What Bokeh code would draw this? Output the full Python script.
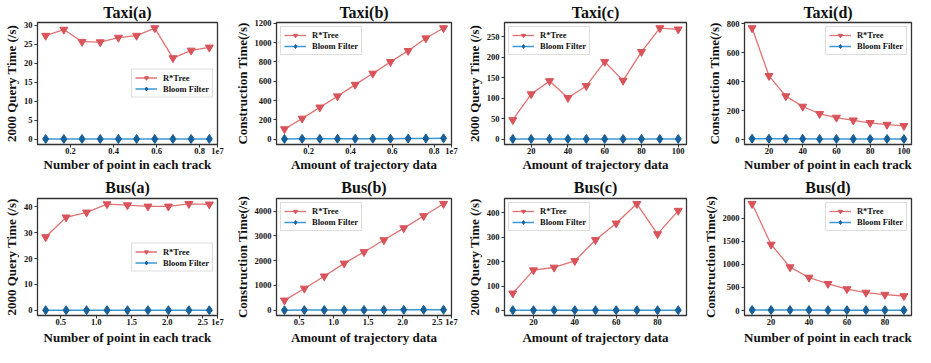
from bokeh.plotting import figure
from bokeh.layouts import gridplot
from bokeh.models import FixedTicker, CustomJSTickFormatter, Range1d
from bokeh.embed import file_html
from bokeh.resources import INLINE

# ---------------- data ----------------
taxi_x_ab = [845000, 1690000, 2535000, 3380000, 4225000, 5070000, 5915000, 6760000, 7605000, 8450000]
taxi_x_cd = [10, 20, 30, 40, 50, 60, 70, 80, 90, 100]
bus_x_ab = [2880000, 5760000, 8640000, 11520000, 14400000, 17280000, 20160000, 23040000, 25920000]
bus_x_cd = [10, 20, 30, 40, 50, 60, 70, 80, 90]

taxi_a_rtree = [27.3, 28.9, 25.7, 25.6, 26.8, 27.3, 29.3, 21.4, 23.4, 24.2]
taxi_a_bloom = [0.1, 0.1, 0.1, 0.1, 0.1, 0.1, 0.1, 0.1, 0.1, 0.1]
taxi_b_rtree = [105, 215, 330, 445, 565, 680, 800, 915, 1045, 1150]
taxi_b_bloom = [3, 4, 4, 5, 5, 6, 6, 7, 8, 9]
taxi_c_rtree = [47, 110, 142, 101, 130, 189, 143, 213, 271, 268]
taxi_c_bloom = [0.8, 0.8, 0.8, 0.8, 0.8, 0.8, 0.8, 0.8, 0.8, 0.8]
taxi_d_rtree = [770, 440, 300, 228, 178, 152, 133, 115, 103, 95]
taxi_d_bloom = [6, 5, 5, 5, 4, 4, 4, 4, 4, 4]

bus_a_rtree = [28.3, 35.9, 37.8, 41.0, 40.6, 40.1, 40.1, 41.1, 40.9]
bus_a_bloom = [0.1, 0.1, 0.1, 0.1, 0.1, 0.1, 0.1, 0.1, 0.1]
bus_b_rtree = [400, 880, 1370, 1890, 2350, 2830, 3310, 3800, 4290]
bus_b_bloom = [5, 8, 10, 12, 14, 16, 18, 20, 22]
bus_c_rtree = [70, 165, 176, 203, 289, 357, 437, 313, 409]
bus_c_bloom = [1, 1, 1, 1, 1, 1, 1, 1, 1]
bus_d_rtree = [2310, 1430, 940, 715, 580, 465, 390, 345, 315]
bus_d_bloom = [12, 11, 10, 10, 9, 9, 9, 8, 8]

series_names = ["R*Tree", "Bloom Filter"]
sci_text = "1e7"

FONT = "Liberation Serif"
RED_LINE = "#e27272"
RED_MARK = "#d9535a"
BLUE_LINE = "#3b98d4"
BLUE_MARK = "#175f98"

COL_W = [231, 232, 236, 216]
COL_BR = [14, 12, 13, 4]
ROW_H = [174, 173]


def pad_range(vals, frac=0.05):
    lo, hi = min(vals), max(vals)
    d = (hi - lo) * frac
    return lo - d, hi + d


def make_panel(col, row, title, xs, r, b, xlabel, ylabel, xticks, yticks, legend_loc,
               sci=False):
    x0, x1 = pad_range(xs)
    y0, y1 = pad_range(r + b)
    p = figure(width=COL_W[col], height=ROW_H[row], output_backend="svg", toolbar_location=None,
               x_range=Range1d(x0, x1), y_range=Range1d(y0, y1),
               min_border_left=4, min_border_right=COL_BR[col], min_border_top=0,
               min_border_bottom=0)
    p.title.text = title
    p.title.align = "center"
    p.title.text_font = FONT
    p.title.text_font_size = "16px"
    p.title.text_font_style = "bold"
    p.title.text_color = "#111111"
    p.title.offset = 0
    p.title.standoff = 3 if row == 0 else 5

    p.xgrid.visible = False
    p.ygrid.visible = False
    p.outline_line_color = "#333333"
    p.outline_line_width = 1.3
    p.outline_line_alpha = 1

    for ax in (p.xaxis[0], p.yaxis[0]):
        ax.major_label_text_font = FONT
        ax.major_label_text_font_style = "bold"
        ax.major_label_text_font_size = "8.5px"
        ax.major_label_text_color = "#111111"
        ax.axis_label_text_font = FONT
        ax.axis_label_text_font_style = "bold"
        ax.axis_label_text_font_size = "13px"
        ax.axis_label_text_color = "#111111"
        ax.minor_tick_line_color = None
        ax.major_tick_in = 0
        ax.major_tick_out = 3
        ax.major_tick_line_color = "#333333"
        ax.axis_line_color = "#333333"
        ax.axis_label_standoff = 2
        ax.major_label_standoff = 2
    p.xaxis.axis_label_standoff = 0 if row == 0 else 2
    p.xaxis.major_label_standoff = 0
    p.xaxis.axis_label = xlabel
    p.yaxis.axis_label = ylabel
    p.yaxis.ticker = FixedTicker(ticks=yticks)
    if sci:
        # extra tick at the right edge carries the offset text "1e7"
        p.xaxis.ticker = FixedTicker(ticks=xticks + [x1])
        p.xaxis.formatter = CustomJSTickFormatter(
            args=dict(end=x1, sci=sci_text),
            code="if (Math.abs(tick - end) < 1) { return sci; } return (tick/1e7).toFixed(1);")
    else:
        p.xaxis.ticker = FixedTicker(ticks=xticks)

    p.line(xs, r, color=RED_LINE, line_width=1.3, legend_label=series_names[0])
    p.scatter(xs, r, marker="inverted_triangle", size=8, fill_color=RED_MARK,
              line_color=RED_MARK, legend_label=series_names[0])
    p.line(xs, b, color=BLUE_LINE, line_width=1.5, legend_label=series_names[1])
    p.scatter(xs, b, marker="diamond", size=9, fill_color=BLUE_MARK,
              line_color=BLUE_MARK, legend_label=series_names[1])

    lg = p.legend[0]
    lg.location = legend_loc
    lg.label_text_font = FONT
    lg.label_text_font_style = "bold"
    lg.label_text_font_size = "8.5px"
    lg.label_text_color = "#111111"
    lg.label_height = 9
    lg.glyph_height = 10
    lg.glyph_width = 22
    lg.label_standoff = 6
    lg.spacing = 1
    lg.padding = 3
    lg.margin = 4
    lg.border_line_color = "#bbbbbb"
    lg.border_line_width = 1
    lg.background_fill_alpha = 0.9
    return p


qy = "2000 Query Time (/s)"
ct = "Construction Time(/s)"
npt = "Number of point in each track"
amt = "Amount of trajectory data"

taxi_sci_ticks = [2000000, 4000000, 6000000, 8000000]
bus_sci_ticks = [5000000, 10000000, 15000000, 20000000, 25000000]

plots = [
    make_panel(0, 0, "Taxi(a)", taxi_x_ab, taxi_a_rtree, taxi_a_bloom, npt, qy, taxi_sci_ticks,
               [0, 5, 10, 15, 20, 25, 30], "center_right", sci=True),
    make_panel(1, 0, "Taxi(b)", taxi_x_ab, taxi_b_rtree, taxi_b_bloom, amt, ct, taxi_sci_ticks,
               [0, 200, 400, 600, 800, 1000, 1200], "top_left", sci=True),
    make_panel(2, 0, "Taxi(c)", taxi_x_cd, taxi_c_rtree, taxi_c_bloom, amt, qy, [20, 40, 60, 80, 100],
               [0, 50, 100, 150, 200, 250], "top_left"),
    make_panel(3, 0, "Taxi(d)", taxi_x_cd, taxi_d_rtree, taxi_d_bloom, npt, ct, [20, 40, 60, 80, 100],
               [0, 200, 400, 600, 800], "top_right"),
    make_panel(0, 1, "Bus(a)", bus_x_ab, bus_a_rtree, bus_a_bloom, npt, qy, bus_sci_ticks,
               [0, 10, 20, 30, 40], "center_right", sci=True),
    make_panel(1, 1, "Bus(b)", bus_x_ab, bus_b_rtree, bus_b_bloom, amt, ct, bus_sci_ticks,
               [0, 1000, 2000, 3000, 4000], "top_left", sci=True),
    make_panel(2, 1, "Bus(c)", bus_x_cd, bus_c_rtree, bus_c_bloom, amt, qy, [20, 40, 60, 80],
               [0, 100, 200, 300, 400], "top_left"),
    make_panel(3, 1, "Bus(d)", bus_x_cd, bus_d_rtree, bus_d_bloom, npt, ct, [20, 40, 60, 80],
               [0, 500, 1000, 1500, 2000], "top_right"),
]

grid = gridplot(plots, ncols=4, toolbar_location=None)

open("out.html", "w").write(file_html(grid, INLINE))
